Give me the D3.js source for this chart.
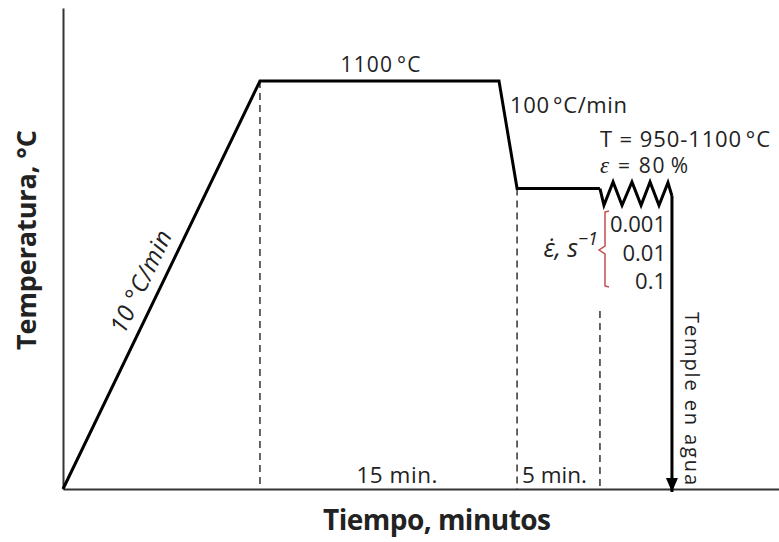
<!DOCTYPE html>
<html>
<head>
<meta charset="utf-8">
<script src="https://cdn.jsdelivr.net/npm/d3@7/dist/d3.min.js"></script>
<style>
  html, body { margin: 0; padding: 0; background: #fff; }
  svg { display: block; }
  text { fill: #222; font-family: "Open Sans", Lato, sans-serif; }
</style>
</head>
<body>
<svg id="chart" width="779" height="542"></svg>
<script>
// Thermal schedule (schematic): time in minutes, temperature in °C
const profileTime = [0, 12.31, 27.25, 28.38, 33.56];
const profileTemp = [0, 1100, 1100, 810, 810];

// Hot deformation saw-tooth during the hold
const zigzagTime = [33.56, 33.81, 34.38, 34.94, 35.56, 36.13, 36.69, 37.25, 37.81, 38.06];
const zigzagTemp = [810, 765, 828, 765, 828, 765, 828, 765, 826, 790];

// Water quench
const quenchTime = [38.06, 38.06];
const quenchTemp = [790, -8];

// Vertical guide lines: time and top temperature
const guideTime = [12.31, 28.38, 33.56];
const guideTop = [1100, 810, 480];

// Interval labels (time at which each label is centred)
const intervalLabels = ["15 min.", "5 min."];
const intervalAt = [20.87, 30.72];

// Strain rates
const strainRates = ["0.001", "0.01", "0.1"];

const svg = d3.select("#chart");
const x = d3.scaleLinear().domain([0, 44.75]).range([63, 779]);
const y = d3.scaleLinear().domain([0, 1100]).range([489, 81]);

// Axes (no ticks, schematic)
const yTop = 1297;
svg.append("g")
  .attr("transform", `translate(${x(0)},0)`)
  .call(d3.axisLeft(d3.scaleLinear().domain([0, yTop]).range([y(0), y(yTop)])).ticks(0).tickSizeOuter(0))
  .call(g => g.select(".domain").attr("stroke", "#333").attr("stroke-width", 2));
svg.append("g")
  .attr("transform", `translate(0,${y(0)})`)
  .call(d3.axisBottom(x).ticks(0).tickSizeOuter(0))
  .call(g => g.select(".domain").attr("stroke", "#333").attr("stroke-width", 2));

// Dashed guides
svg.selectAll(".guide").data(guideTime).join("line")
  .attr("class", "guide")
  .attr("x1", d => x(d)).attr("x2", d => x(d))
  .attr("y1", (d, i) => y(guideTop[i])).attr("y2", y(0))
  .attr("stroke", "#333").attr("stroke-width", 1.5)
  .attr("stroke-dasharray", "7,5");

const line = d3.line().x(d => x(d[0])).y(d => y(d[1]));

// Main profile
svg.append("path")
  .datum(profileTime.map((t, i) => [t, profileTemp[i]]))
  .attr("d", line)
  .attr("fill", "none").attr("stroke", "#000").attr("stroke-width", 3)
  .attr("stroke-linejoin", "miter");

svg.append("path")
  .datum(zigzagTime.map((t, i) => [t, zigzagTemp[i]]))
  .attr("d", line)
  .attr("fill", "none").attr("stroke", "#000").attr("stroke-width", 3)
  .attr("stroke-linejoin", "miter");

// Quench with arrow head
svg.append("path")
  .datum(quenchTime.map((t, i) => [t, quenchTemp[i]]))
  .attr("d", line)
  .attr("fill", "none").attr("stroke", "#000").attr("stroke-width", 3);
const qx = x(quenchTime[1]), qy = y(quenchTemp[1]);
svg.append("path")
  .attr("d", `M${qx - 6},${qy - 14} L${qx + 6},${qy - 14} L${qx},${qy} Z`)
  .attr("fill", "#000");

// Helper: text, optionally fitted to a given width
function label(sel, txt, opts) {
  const t = sel.append("text")
    .attr("font-size", opts.size)
    .attr("text-anchor", opts.anchor || "start");
  if (opts.transform) t.attr("transform", opts.transform);
  else t.attr("x", opts.x).attr("y", opts.y);
  if (opts.weight) t.attr("font-weight", opts.weight);
  if (opts.style) t.attr("font-style", opts.style);
  if (opts.family) t.attr("font-family", opts.family);
  if (opts.width) t.attr("textLength", opts.width).attr("lengthAdjust", "spacing");
  t.text(txt);
  return t;
}

// Plateau temperature
label(svg, "1100\u202F°C", { x: x((profileTime[1] + profileTime[2]) / 2) + 1, y: 72, size: 21, anchor: "middle", width: 80 });

// Cooling rate and deformation conditions
label(svg, "100\u202F°C/min", { x: 510, y: 113, size: 22, width: 117 });
label(svg, "T = 950-1100\u202F°C", { x: 600, y: 147, size: 22, width: 170 });

const eps = svg.append("text").attr("x", 600).attr("y", 173).attr("font-size", 21)
  .attr("textLength", 88).attr("lengthAdjust", "spacing");
eps.append("tspan").attr("font-style", "italic").attr("font-family", "'Liberation Serif', serif").attr("font-size", 23).text("ε");
eps.append("tspan").text(" = 80\u202F%");

// Ramp label along the heating segment
const ang = Math.atan2(y(1100) - y(0), x(profileTime[1]) - x(0)) * 180 / Math.PI;
label(svg, "10 °C/min", {
  transform: `translate(${x(5.34)},${y(549)}) rotate(${ang})`,
  size: 24, anchor: "middle", style: "italic", family: "'Liberation Serif', serif", width: 111
});

// Interval labels
svg.selectAll(".interval").data(intervalLabels).join("text")
  .attr("class", "interval")
  .attr("x", (d, i) => x(intervalAt[i]))
  .attr("y", 483).attr("text-anchor", "middle").attr("font-size", 22.5)
  .attr("textLength", (d, i) => i === 0 ? 81 : 65).attr("lengthAdjust", "spacing")
  .text(d => d);

// Strain rates
svg.selectAll(".rate").data(strainRates).join("text")
  .attr("class", "rate")
  .attr("x", 666).attr("y", (d, i) => 232 + i * 28.5)
  .attr("text-anchor", "end").attr("font-size", 22)
  .text(d => d);

// Red brace
svg.append("path")
  .attr("d", "M609,211 L605,212 L605,246 L599,250 L605,254 L605,286 L609,287")
  .attr("fill", "none").attr("stroke", "#c0504d").attr("stroke-width", 1.5);

// Strain rate symbol
const er = svg.append("text").attr("x", 598).attr("y", 257).attr("text-anchor", "end")
  .attr("font-size", 25).attr("font-style", "italic").attr("font-family", "'Liberation Serif', serif");
er.append("tspan").text("ε\u0307, s");
er.append("tspan").attr("dy", -12).attr("font-size", 18).text("−1");

// Quench label
label(svg, "Temple en agua", { transform: `translate(685,312) rotate(90)`, size: 20, width: 173 });

// Axis titles
label(svg, "Temperatura, °C", {
  transform: `translate(36,240) rotate(-90)`, size: 27, anchor: "middle", weight: "bold", width: 220
}).attr("fill", "#111");

label(svg, "Tiempo, minutos", { x: 437, y: 530, size: 28, anchor: "middle", weight: "bold", width: 228 })
  .attr("fill", "#111");
</script>
</body>
</html>
